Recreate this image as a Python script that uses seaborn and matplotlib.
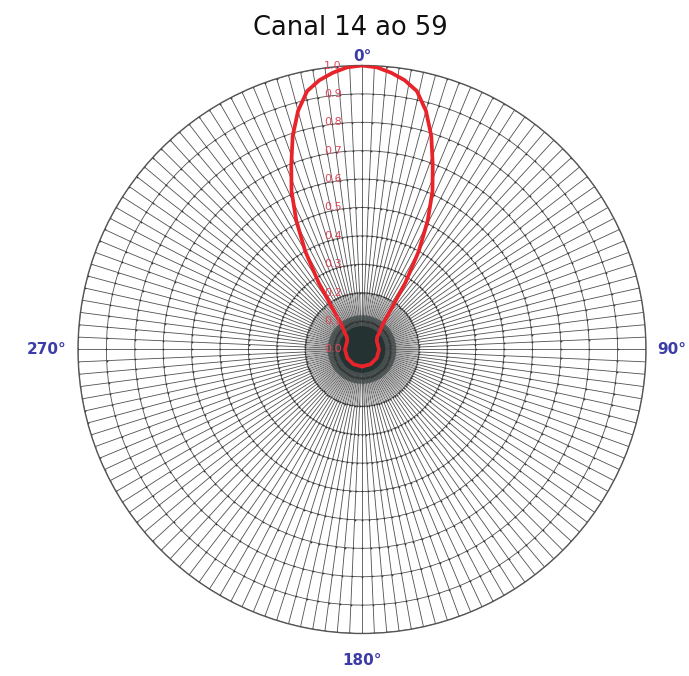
import numpy as np
import pandas as pd
import seaborn as sns
import matplotlib
matplotlib.use("Agg")
from matplotlib import pyplot as plt
from matplotlib import transforms

# diagrama de irradiacao horizontal (angulo em graus, campo relativo)
angulos = [-180, -150, -120, -90, -60, -50, -46, -42, -39, -36, -33, -30,
           -27, -24, -21, -18, -15, -12, -9, -6, -3, 0, 3, 6, 9, 12, 15, 18,
           21, 24, 27, 30, 33, 36, 39, 42, 46, 50, 60, 90, 120, 150, 180]
campo = [0.06, 0.06, 0.06, 0.06, 0.06, 0.07, 0.085, 0.10, 0.12, 0.17, 0.28,
         0.40, 0.51, 0.61, 0.695, 0.79, 0.87, 0.93, 0.96, 0.98, 0.995, 1.0,
         0.995, 0.98, 0.96, 0.93, 0.87, 0.79, 0.695, 0.61, 0.51, 0.40, 0.28,
         0.17, 0.12, 0.10, 0.085, 0.07, 0.06, 0.06, 0.06, 0.06, 0.06]

niveis = [0.0, 0.1, 0.2, 0.3, 0.4, 0.5, 0.6, 0.7, 0.8, 0.9, 1.0]
rotulos_niveis = ["0.0", "0.1", "0.2", "0.3", "0.4", "0.5", "0.6", "0.7",
                  "0.8", "0.9", "1.0"]
direcoes = [0, 90, 180, 270]
rotulos_direcoes = ["0°", "90°", "180°", "270°"]

df = pd.DataFrame({"theta": np.deg2rad(angulos), "r": campo})

sns.set_style("white")
plt.rcParams['font.family'] = ['DejaVu Sans']

fig = plt.figure(figsize=(6.89, 6.76), dpi=100)
ax = fig.add_axes([0.1132, 0.0629, 0.8244, 0.8402], projection='polar')
ax.set_theta_zero_location('N')
ax.set_theta_direction(-1)
ax.set_ylim(0, 1)

# grade densa: raios a cada 2.5 graus e circulos a cada 0.1
passo = np.arange(0, 360, 2.5)
ax.set_thetagrids(passo, labels=[])
ax.set_rgrids(niveis[1:], labels=[])
ax.grid(True, color='#505050', linewidth=0.6)
ax.spines['polar'].set_color('#555555')
ax.spines['polar'].set_linewidth(1.0)

# centro mais denso (como no desenho original)
for a in np.deg2rad(passo + 1.25):
    ax.plot([a, a], [0, 0.2], color='#8a8a8a', linewidth=0.4, zorder=1)
for a in np.deg2rad(np.arange(0, 360, 1.0)):
    ax.plot([a, a], [0, 0.12], color='#3a4444', linewidth=0.4, zorder=1)
for a in np.deg2rad(np.arange(0, 360, 0.6)):
    ax.plot([a, a], [0, 0.08], color='#243232', linewidth=0.5, zorder=1)

# marcas pequenas nos cruzamentos
tt, rr = np.meshgrid(np.deg2rad(passo), niveis[1:])
ax.scatter(tt.ravel(), rr.ravel(), s=1.6, color='#333333', zorder=2,
           linewidths=0)

sns.lineplot(data=df, x="theta", y="r", ax=ax, sort=False, color='#e8242a',
             linewidth=2.7, zorder=5)
ax.set_xlabel("")
ax.set_ylabel("")

off = transforms.offset_copy(ax.transData, fig=fig, x=-29, y=0, units='dots')
for n, txt in zip(niveis, rotulos_niveis):
    ax.text(0, n, txt, transform=off, color='#e0485a', fontsize=8,
            ha='center', va='center', zorder=6)

azul = '#3c3ca8'
ax.text(0, 1.005, rotulos_direcoes[0], color=azul, fontsize=11,
        fontweight='bold', ha='center', va='bottom')
ax.text(np.deg2rad(90), 1.04, rotulos_direcoes[1], color=azul, fontsize=11,
        fontweight='bold', ha='left', va='center')
ax.text(np.deg2rad(180), 1.07, rotulos_direcoes[2], color=azul, fontsize=11,
        fontweight='bold', ha='center', va='top')
ax.text(np.deg2rad(270), 1.04, rotulos_direcoes[3], color=azul, fontsize=11,
        fontweight='bold', ha='right', va='center')

fig.text(0.508, 0.958, "Canal 14 ao 59", fontsize=18.5, ha='center',
         va='center', color='#111111')

fig.savefig("out.png", dpi=100)
